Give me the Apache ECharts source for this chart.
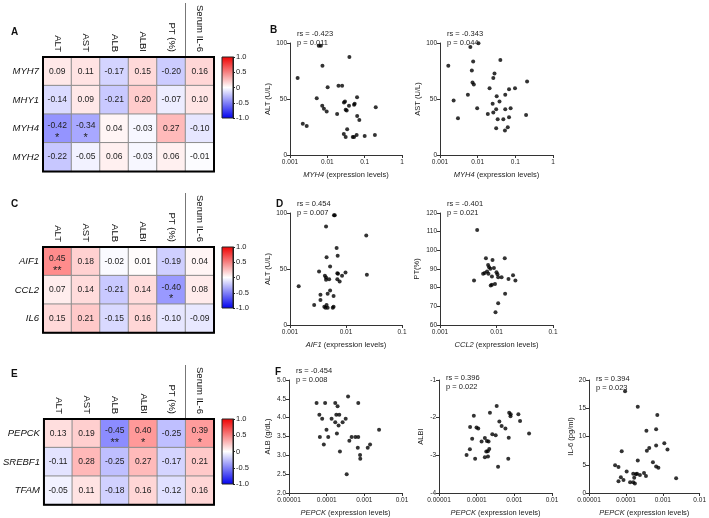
<!DOCTYPE html>
<html lang="en">
<head>
    <meta charset="UTF-8">
    <title>Gene expression correlations</title>
    <script src="https://cdn.jsdelivr.net/npm/echarts@6/dist/echarts.min.js"></script>
    <style>
        body, html { margin: 0; padding: 0; background: #fff; }
        #main { width: 709px; height: 518px; }
    </style>
</head>
<body>
<div id="main"></div>
<script>
    // heatmap data
    const clinical = ["ALT", "AST", "ALB", "ALBI", "PT (%)", "Serum IL-6"];

    const genesA = ["MYH7", "MHY1", "MYH4", "MYH2"];
    const rhoA = [
        [0.09, 0.11, -0.17, 0.15, -0.20, 0.16],
        [-0.14, 0.09, -0.21, 0.20, -0.07, 0.10],
        [-0.42, -0.34, 0.04, -0.03, 0.27, -0.10],
        [-0.22, -0.05, 0.06, -0.03, 0.06, -0.01]
    ];
    const starsA = [
        ["", "", "", "", "", ""],
        ["", "", "", "", "", ""],
        ["*", "*", "", "", "", ""],
        ["", "", "", "", "", ""]
    ];

    const genesC = ["AIF1", "CCL2", "IL6"];
    const rhoC = [
        [0.45, 0.18, -0.02, 0.01, -0.19, 0.04],
        [0.07, 0.14, -0.21, 0.14, -0.40, 0.08],
        [0.15, 0.21, -0.15, 0.16, -0.10, -0.09]
    ];
    const starsC = [
        ["**", "", "", "", "", ""],
        ["", "", "", "", "*", ""],
        ["", "", "", "", "", ""]
    ];

    const genesE = ["PEPCK", "SREBF1", "TFAM"];
    const rhoE = [
        [0.13, 0.19, -0.45, 0.40, -0.25, 0.39],
        [-0.11, 0.28, -0.25, 0.27, -0.17, 0.21],
        [-0.05, 0.11, -0.18, 0.16, -0.12, 0.16]
    ];
    const starsE = [
        ["", "", "**", "*", "", "*"],
        ["", "", "", "", "", ""],
        ["", "", "", "", "", ""]
    ];

    // scatter data  [expression, clinical value]
    const myh4Alt = [[0.0016,68.7],[0.0059,97.6],[0.0067,97.6],[0.0074,79.7],[0.039,87.5],[0.0102,60.6],[0.0199,61.8],[0.0249,61.8],[0.0052,50.7],[0.0073,43.9],[0.0081,41.2],[0.0096,38.8],[0.0183,36.7],[0.0022,27.8],[0.0028,26],[0.0279,46.9],[0.0297,47.8],[0.031,40.3],[0.033,39.7],[0.038,43.9],[0.0625,51.6],[0.0519,44.8],[0.054,45.7],[0.063,34.9],[0.072,31.3],[0.034,23],[0.0276,18.8],[0.031,16.1],[0.048,16.1],[0.052,16.1],[0.061,17.9],[0.1,17],[0.188,17.9],[0.198,42.7]];
    const myh4Ast = [[0.00166,79.7],[0.0023,48.6],[0.0030,32.9],[0.0055,53.7],[0.0064,96.4],[0.0076,83.5],[0.007,75.5],[0.0073,64.7],[0.0079,63],[0.0097,41.8],[0.0105,99.7],[0.040,84.8],[0.028,72.8],[0.026,68.7],[0.205,65.6],[0.0207,59.7],[0.068,58.8],[0.098,59.7],[0.032,52.5],[0.054,53.7],[0.038,47.7],[0.025,45.7],[0.031,40.9],[0.054,40.9],[0.075,41.8],[0.0186,36.7],[0.026,37.9],[0.193,35.8],[0.034,32],[0.048,32],[0.068,33.8],[0.031,23.9],[0.063,24.8],[0.053,21.8]];
    const aif1Alt = [[0.00143,34.6],[0.0027,17.9],[0.0035,26.9],[0.0035,22.4],[0.0033,47.8],[0.0041,16.4],[0.0043,15.5],[0.0045,17.9],[0.0047,15.5],[0.0044,88],[0.0045,60.6],[0.0042,43.9],[0.0044,42.4],[0.0044,40.3],[0.0050,40.9],[0.0052,52.2],[0.0047,27.8],[0.0052,30.7],[0.006,26],[0.006,16.4],[0.0058,15.5],[0.0061,97.9],[0.0063,97.9],[0.0068,68.7],[0.0071,61.8],[0.007,46.3],[0.0072,45.7],[0.007,40.9],[0.0077,38.8],[0.0085,43.9],[0.0098,46.9],[0.023,80],[0.0236,44.8]];
    const ccl2Pt = [[0.00455,110.9],[0.0040,83.8],[0.0065,95.8],[0.0085,94.8],[0.014,95.8],[0.0071,92.2],[0.0074,91],[0.0090,90.5],[0.0078,90.1],[0.0058,87.4],[0.0062,87.8],[0.0068,88.6],[0.0072,87.4],[0.01,88.3],[0.0104,87.2],[0.0107,85.6],[0.0123,85.6],[0.0083,86],[0.0163,84.7],[0.0196,86.7],[0.0216,83.8],[0.0079,81.1],[0.0083,81.5],[0.0094,81.9],[0.0142,76.7],[0.0107,71.7],[0.0096,66.8]];
    const pepckAlb = [[5.4e-5,4.39],[9.1e-5,4.39],[1.69e-4,4.39],[1.95e-4,4.30],[3.7e-4,4.56],[6.9e-4,4.39],[6.4e-5,4.08],[7.6e-5,3.97],[1.35e-4,3.97],[1.69e-4,3.88],[1.8e-4,4.08],[2.16e-4,4.08],[2.07e-4,3.79],[2.65e-4,3.88],[3.2e-4,3.97],[9.9e-5,3.68],[1.1e-4,3.49],[1.87e-4,3.58],[6.6e-5,3.49],[8.4e-5,3.29],[2.25e-4,3.10],[4.0e-4,3.39],[4.6e-4,3.49],[5.8e-4,3.49],[6.9e-4,3.49],[6.7e-4,3.20],[7.7e-4,3.01],[7.8e-4,2.91],[1.23e-3,3.20],[1.42e-3,3.29],[2.46e-3,3.68],[3.4e-4,2.50]];
    const pepckAlbi = [[3.4e-4,-1.69],[2.25e-4,-1.87],[7.3e-4,-1.87],[8e-4,-1.91],[7.9e-4,-1.96],[1.28e-3,-1.91],[1.42e-3,-2.09],[4.0e-4,-2.10],[4.6e-4,-2.22],[5.8e-4,-2.29],[8.4e-5,-1.95],[6.7e-5,-2.25],[9.9e-5,-2.26],[1.1e-4,-2.29],[2.46e-3,-2.42],[2.6e-4,-2.44],[3.2e-4,-2.47],[7.1e-4,-2.53],[7.6e-5,-2.56],[1.65e-4,-2.54],[1.35e-4,-2.63],[1.87e-4,-2.62],[2.07e-4,-2.63],[1.98e-4,-2.89],[2.16e-4,-2.83],[1.8e-4,-2.90],[6.6e-5,-2.84],[2.0e-4,-3.03],[1.65e-4,-3.05],[5.4e-5,-2.99],[9.1e-5,-3.09],[6.9e-4,-3.09],[3.7e-4,-3.30]];
    const pepckIl6 = [[9.5e-5,18.0],[2.1e-4,15.25],[7.1e-4,13.8],[3.6e-4,11.0],[6.6e-4,11.3],[1.1e-3,8.8],[1.34e-3,7.7],[6.6e-4,8.4],[4.3e-4,7.95],[3.7e-4,7.5],[7.7e-5,7.4],[2.1e-4,5.75],[5.4e-4,5.45],[5.1e-5,4.9],[6.3e-5,4.6],[6.6e-4,4.7],[7.6e-4,4.45],[1.05e-4,3.8],[7.3e-5,2.8],[8.6e-5,2.3],[6.3e-5,2.1],[1.58e-4,3.4],[1.87e-4,3.3],[2e-4,3.4],[3.1e-4,3.55],[2.4e-4,3.2],[3.5e-4,3.0],[1.68e-4,2.7],[1.3e-4,1.9],[1.58e-4,1.9],[1.75e-4,1.7],[2.3e-3,2.6]];

    const FONT = "Liberation Sans, Arial, sans-serif";

    let grids = [], xAxes = [], yAxes = [], series = [], visualMaps = [], titles = [], graphics = [];

    function addHeatmap(top, genes, rho, stars, barTop, barHeight) {
        const gi = grids.length;
        const height = genes.length * 28.6;
        grids.push({left: 43, top: top, width: 171, height: height, show: true,
            borderColor: '#000', borderWidth: 2, backgroundColor: 'transparent', z: 5});
        xAxes.push({
            type: 'category', gridIndex: gi, position: 'top', data: clinical,
            axisLine: {show: false}, axisTick: {show: false},
            axisLabel: {rotate: 90, fontSize: 9.5, color: '#111', margin: 5, fontFamily: FONT}
        });
        yAxes.push({
            type: 'category', gridIndex: gi, inverse: true, data: genes,
            axisLine: {show: false}, axisTick: {show: false},
            axisLabel: {fontSize: 9.5, fontStyle: 'italic', color: '#111', margin: 4, fontFamily: FONT}
        });
        const cells = [];
        rho.forEach((row, r) => row.forEach((v, c) => {
            const s = stars[r][c];
            cells.push(s ? {value: [c, r, v, s], label: {offset: [0, 4.5]}} : {value: [c, r, v, s]});
        }));
        const si = series.length;
        series.push({
            type: 'heatmap', xAxisIndex: gi, yAxisIndex: gi, data: cells,
            itemStyle: {borderColor: '#8c8c8c', borderWidth: 1},
            label: {
                show: true,
                formatter: function (p) {
                    const txt = p.value[2].toFixed(2);
                    return p.value[3] ? '{v|' + txt + '}\n{s|' + p.value[3] + '}' : '{v|' + txt + '}';
                },
                rich: {
                    v: {fontSize: 8.5, color: '#222', lineHeight: 10, fontFamily: FONT},
                    s: {fontSize: 11, color: '#222', lineHeight: 14, fontFamily: FONT}
                }
            }
        });
        visualMaps.push({
            show: false, type: 'continuous', seriesIndex: si, dimension: 2, min: -1, max: 1,
            inRange: {color: ['#0000ff', '#ffffff', '#ff0000']}
        });

        // colour bar
        const bi = grids.length;
        grids.push({
            left: 222, top: barTop, width: 11, height: barHeight, show: true,
            borderWidth: 1, borderColor: '#222',
            backgroundColor: {
                type: 'linear', x: 0, y: 0, x2: 0, y2: 1,
                colorStops: [{offset: 0, color: '#ee0000'}, {offset: 0.5, color: '#ffffff'}, {offset: 1, color: '#0000ee'}]
            }
        });
        xAxes.push({type: 'category', gridIndex: bi, data: [''], show: false});
        yAxes.push({
            type: 'value', gridIndex: bi, position: 'right', min: -1, max: 1, interval: 0.5,
            axisLine: {show: true, lineStyle: {color: '#222', width: 1}},
            axisTick: {show: true, length: 2, lineStyle: {color: '#222'}},
            splitLine: {show: false},
            axisLabel: {fontSize: 7.5, color: '#222', margin: 3, fontFamily: FONT,
                formatter: v => v === 0 ? '0' : v.toFixed(1)}
        });
        series.push({type: 'scatter', xAxisIndex: bi, yAxisIndex: bi, data: []});

        // separator above Serum IL-6
        const sepX = 43 + 171 * 5 / 6;
        graphics.push({type: 'line', shape: {x1: sepX, y1: top - 54, x2: sepX, y2: top},
            style: {stroke: '#777', lineWidth: 1}, silent: true});
    }

    function logLabel(v) {
        const e = Math.round(Math.log10(v));
        return e >= 0 ? String(Math.pow(10, e)) : Math.pow(10, e).toFixed(-e);
    }

    function addScatter(cfg) {
        const gi = grids.length;
        grids.push({left: cfg.left, top: cfg.top, width: cfg.width, height: cfg.height});
        xAxes.push({
            type: 'log', logBase: 10, gridIndex: gi, min: cfg.xMin, max: cfg.xMax,
            name: '{i|' + cfg.gene + '} (expression levels)', nameLocation: 'middle', nameGap: 16,
            nameTextStyle: {fontSize: 7.5, color: '#222', fontFamily: FONT,
                rich: {i: {fontSize: 7.5, fontStyle: 'italic', color: '#222', fontFamily: FONT}}},
            axisLine: {show: true, lineStyle: {color: '#333'}},
            axisTick: {show: true, length: 3, lineStyle: {color: '#333'}},
            minorTick: {show: false},
            splitLine: {show: false},
            axisLabel: {fontSize: 6.5, color: '#222', margin: 4, fontFamily: FONT, formatter: logLabel}
        });
        yAxes.push({
            type: 'value', gridIndex: gi, min: cfg.yMin, max: cfg.yMax, interval: cfg.yInt,
            name: cfg.yName, nameLocation: 'middle', nameGap: cfg.nameGap || 17,
            nameTextStyle: {fontSize: 7.5, color: '#222', fontFamily: FONT},
            axisLine: {show: true, lineStyle: {color: '#333'}},
            axisTick: {show: true, length: 3, lineStyle: {color: '#333'}},
            splitLine: {show: false},
            axisLabel: {fontSize: 6.5, color: '#222', margin: 3, fontFamily: FONT,
                formatter: cfg.yFmt || (v => String(v))}
        });
        series.push({
            type: 'scatter', xAxisIndex: gi, yAxisIndex: gi, data: cfg.data,
            symbol: 'circle', symbolSize: 4, itemStyle: {color: '#000'}
        });
        titles.push({
            text: cfg.stat, left: cfg.left + 2, top: cfg.statTop,
            textStyle: {fontSize: 7.5, fontWeight: 'normal', color: '#222', lineHeight: 9, fontFamily: FONT}
        });
    }

    addHeatmap(57, genesA, rhoA, starsA, 57, 61);
    addHeatmap(247, genesC, rhoC, starsC, 247, 61);
    addHeatmap(419, genesE, rhoE, starsE, 419, 65);

    addScatter({left: 290, top: 43, width: 112, height: 112, xMin: 0.001, xMax: 1, yMin: 0, yMax: 100, yInt: 50,
        yName: 'ALT (U/L)', gene: 'MYH4', data: myh4Alt, stat: 'rs = -0.423\np = 0.011', statTop: 24});
    addScatter({left: 440, top: 43, width: 113, height: 112, xMin: 0.001, xMax: 1, yMin: 0, yMax: 100, yInt: 50,
        yName: 'AST (U/L)', gene: 'MYH4', data: myh4Ast, stat: 'rs = -0.343\np = 0.044', statTop: 24});
    addScatter({left: 290, top: 213, width: 112, height: 112, xMin: 0.001, xMax: 0.1, yMin: 0, yMax: 100, yInt: 50,
        yName: 'ALT (U/L)', gene: 'AIF1', data: aif1Alt, stat: 'rs = 0.454\np = 0.007', statTop: 194});
    addScatter({left: 440, top: 213, width: 113, height: 112, xMin: 0.001, xMax: 0.1, yMin: 60, yMax: 120, yInt: 10,
        yName: 'PT(%)', gene: 'CCL2', data: ccl2Pt, stat: 'rs = -0.401\np = 0.021', statTop: 194, nameGap: 19});
    addScatter({left: 289, top: 380, width: 113, height: 114, xMin: 0.00001, xMax: 0.01, yMin: 2, yMax: 5, yInt: 0.5,
        yName: 'ALB (g/dL)', gene: 'PEPCK', data: pepckAlb, stat: 'rs = -0.454\np = 0.008', statTop: 361,
        yFmt: v => v.toFixed(1)});
    addScatter({left: 439, top: 380, width: 113, height: 114, xMin: 0.00001, xMax: 0.01, yMin: -4, yMax: -1, yInt: 1,
        yName: 'ALBI', gene: 'PEPCK', data: pepckAlbi, stat: 'rs = 0.396\np = 0.022', statTop: 368, nameGap: 14});
    addScatter({left: 589, top: 380, width: 113, height: 114, xMin: 0.00001, xMax: 0.01, yMin: 0, yMax: 20, yInt: 5,
        yName: 'IL-6 (pg/ml)', gene: 'PEPCK', data: pepckIl6, stat: 'rs = 0.394\np = 0.023', statTop: 369, nameGap: 14});

    // panel letters
    [['A', 6, 22], ['C', 6, 194], ['E', 6, 364], ['B', 265, 20], ['D', 271, 194], ['F', 270, 362]].forEach(l => {
        titles.push({text: l[0], left: l[1], top: l[2],
            textStyle: {fontSize: 10, fontWeight: 'bold', color: '#111', fontFamily: FONT}});
    });

    let options = {
        animation: false,
        backgroundColor: '#fff',
        textStyle: {fontFamily: FONT},
        title: titles,
        grid: grids,
        xAxis: xAxes,
        yAxis: yAxes,
        visualMap: visualMaps,
        series: series,
        graphic: graphics
    };

    let chart = echarts.init(document.getElementById('main'));
    chart.setOption(options);
</script>
</body>
</html>
